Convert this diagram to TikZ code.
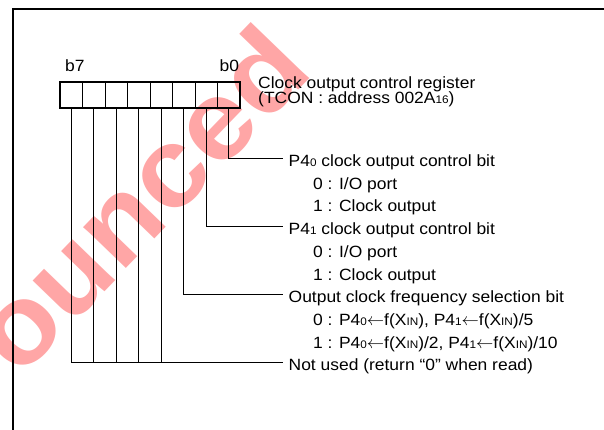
\documentclass[tikz,border=0pt]{standalone}
\usepackage{fontspec}
\setmainfont[FakeStretch=1.07]{Liberation Sans}
\usetikzlibrary{positioning}

\newcommand{\lowidx}[1]{\raisebox{-0.3pt}{\fontsize{11}{11}\selectfont #1}}
\newcommand{\getsarrow}{$\leftarrow$}

\begin{document}
\begin{tikzpicture}[x=1pt,y=-1pt,
every node/.style={
inner sep=0pt,
anchor=base west,
font=\fontsize{16.3}{19}\selectfont
},
cell/.style={draw,line width=0.8pt,minimum width=22.5pt,minimum height=25pt,anchor=center},
wire/.style={line width=0.9pt},
stamp/.style={text=red!35,font=\bfseries\fontsize{112}{112}\selectfont}
]
\useasboundingbox (0,0) rectangle (604,430);

\node[stamp,rotate=46] (wm) at (19,380) {ounced};

\draw[line width=2.2pt] (13,430) -- (13,9) -- (604,9);

\foreach \i in {0,...,7}
  \node[cell] (b\i) at ({228.75-22.5*\i},95) {};
\draw[line width=2pt] (b7.north west) rectangle (b0.south east);

\node (l7) at (65,72) {b7};
\node (l0) at (219.5,72) {b0};

\node (reg) at (258,88.5) {Clock output control register};
\node (addr) at (258,103.5) {(TCON : address 002A\lowidx{16})};

\node (t0) at (288.5,166.5) {P4\lowidx{0} clock output control bit};
\node (t0a) at (313,189.2) {0 : I/O port};
\node (t0b) at (313,211.9) {1 : Clock output};
\node (t1) at (288.5,234.6) {P4\lowidx{1} clock output control bit};
\node (t1a) at (313,257.3) {0 : I/O port};
\node (t1b) at (313,280) {1 : Clock output};
\node (t2) at (288.5,302.7) {Output clock frequency selection bit};
\node (t2a) at (313,325.4) {0 : P4\lowidx{0}\getsarrow f(X\lowidx{IN}), P4\lowidx{1}\getsarrow f(X\lowidx{IN})/5};
\node (t2b) at (313,348.1) {1 : P4\lowidx{0}\getsarrow f(X\lowidx{IN})/2, P4\lowidx{1}\getsarrow f(X\lowidx{IN})/10};
\node (t7) at (288.5,370.8) {Not used (return “0” when read)};

\coordinate (e0) at (283,158.2);
\coordinate (e1) at (283,226.2);
\coordinate (e2) at (283,294.3);
\coordinate (e7) at (283,362.4);

\draw[wire] (b0.south) |- (e0);
\draw[wire] (b1.south) |- (e1);
\draw[wire] (b2.south) |- (e2);
\foreach \i in {3,...,7}
  \draw[wire] (b\i.south) |- (e7);

\end{tikzpicture}
\end{document}
